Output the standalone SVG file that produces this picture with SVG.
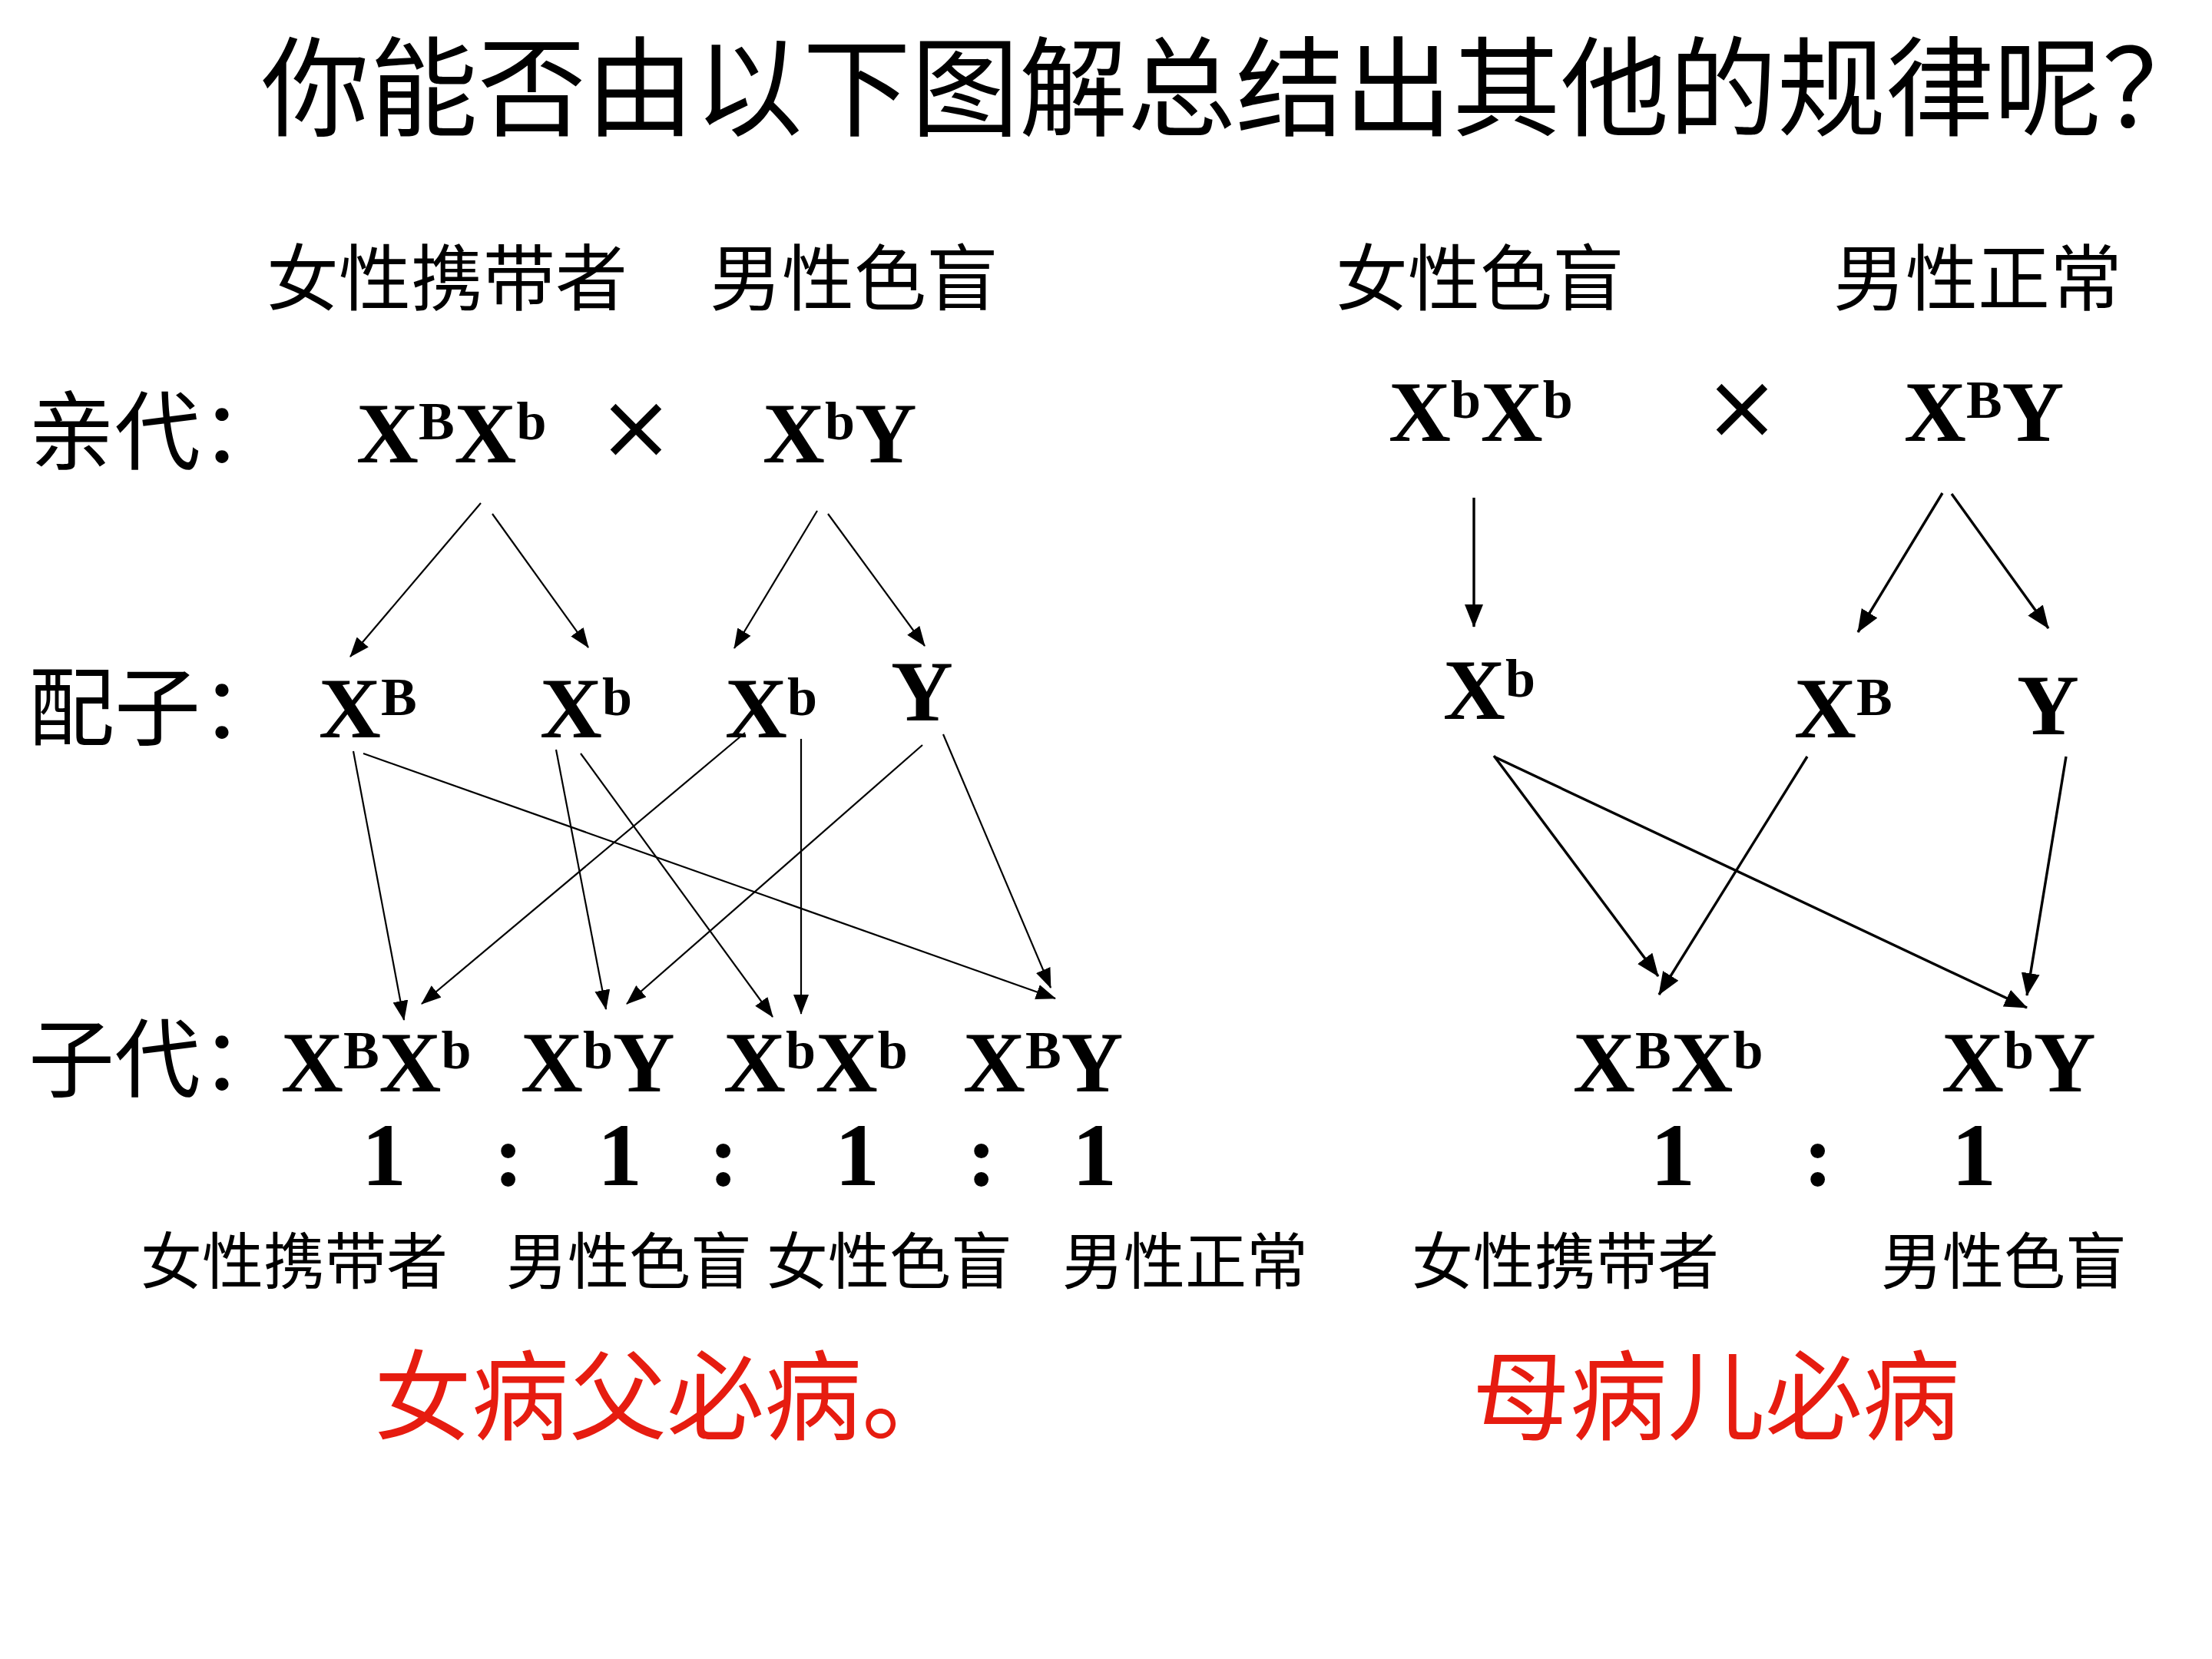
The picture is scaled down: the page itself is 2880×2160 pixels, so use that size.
<svg xmlns="http://www.w3.org/2000/svg" width="2880" height="2160" viewBox="0 0 2880 2160">
<style>
.cjk{font-family:"Noto Sans CJK SC","Noto Sans CJK TC",sans-serif;fill:#000}
.title{font-size:141px}
.lab{font-size:94px}
.row{font-size:112px}
.small{font-size:80px}
.red{font-size:127px;fill:#e61c10}
.gen{font-family:"Liberation Serif","Times New Roman",serif;font-weight:bold;font-size:112px;fill:#000}
.sup{font-size:70px}
.num{font-family:"Liberation Serif","Times New Roman",serif;font-weight:bold;font-size:116px;fill:#000;text-anchor:middle}
.cross{font-family:"DejaVu Sans",sans-serif;font-size:118px;fill:#000;text-anchor:middle}
.thin{stroke:#000;stroke-width:2.2;fill:none;marker-end:url(#ah)}
.thick{stroke:#000;stroke-width:3.4;fill:none;marker-end:url(#ah2)}
</style>
<defs>
<marker id="ah" markerUnits="userSpaceOnUse" viewBox="0 0 26 20" markerWidth="26" markerHeight="20" refX="25" refY="10" orient="auto"><path d="M0,0 L26,10 L0,20 z" fill="#000"/></marker>
<marker id="ah2" markerUnits="userSpaceOnUse" viewBox="0 0 30 24" markerWidth="30" markerHeight="24" refX="29" refY="12" orient="auto"><path d="M0,0 L30,12 L0,24 z" fill="#000"/></marker>
</defs>
<rect width="2880" height="2160" fill="#fff"/>

<g id="title"><text class="cjk title" x="340" y="166">你能否由以下图解总结出其他的规律呢？</text></g>

<g id="label-left-mother"><text class="cjk lab" x="347" y="397">女性携带者</text></g>
<g id="label-left-father"><text class="cjk lab" x="924" y="397">男性色盲</text></g>
<g id="label-right-mother"><text class="cjk lab" x="1739" y="397">女性色盲</text></g>
<g id="label-right-father"><text class="cjk lab" x="2387" y="397">男性正常</text></g>

<g id="row-parent"><text class="cjk row" x="37" y="603">亲代：</text></g>
<g id="row-gamete"><text class="cjk row" x="37" y="962">配子：</text></g>
<g id="row-offspring"><text class="cjk row" x="37" y="1420">子代：</text></g>

<g id="L-P-mother"><text class="gen" x="464" y="602"><tspan>X</tspan><tspan class="sup" dy="-30">B</tspan><tspan dy="30">X</tspan><tspan class="sup" dy="-30">b</tspan></text></g>
<g id="L-cross"><text class="cross" x="828" y="596">×</text></g>
<g id="L-P-father"><text class="gen" x="993" y="602"><tspan>X</tspan><tspan class="sup" dy="-30">b</tspan><tspan dy="30">Y</tspan></text></g>

<g id="L-G-XB"><text class="gen" x="415" y="960"><tspan>X</tspan><tspan class="sup" dy="-29">B</tspan></text></g>
<g id="L-G-Xb1"><text class="gen" x="703" y="960"><tspan>X</tspan><tspan class="sup" dy="-29">b</tspan></text></g>
<g id="L-G-Xb2"><text class="gen" x="944" y="960"><tspan>X</tspan><tspan class="sup" dy="-29">b</tspan></text></g>
<g id="L-G-Y"><text class="gen" x="1160" y="938">Y</text></g>

<g id="L-O-XBXb"><text class="gen" x="366" y="1421"><tspan>X</tspan><tspan class="sup" dy="-30">B</tspan><tspan dy="30">X</tspan><tspan class="sup" dy="-30">b</tspan></text></g>
<g id="L-O-XbY"><text class="gen" x="678" y="1421"><tspan>X</tspan><tspan class="sup" dy="-30">b</tspan><tspan dy="30">Y</tspan></text></g>
<g id="L-O-XbXb"><text class="gen" x="942" y="1421"><tspan>X</tspan><tspan class="sup" dy="-30">b</tspan><tspan dy="30">X</tspan><tspan class="sup" dy="-30">b</tspan></text></g>
<g id="L-O-XBY"><text class="gen" x="1254" y="1421"><tspan>X</tspan><tspan class="sup" dy="-30">B</tspan><tspan dy="30">Y</tspan></text></g>

<g id="L-ratio">
<text class="num" x="500" y="1543">1</text>
<text class="num" x="662" y="1543">:</text>
<text class="num" x="807" y="1543">1</text>
<text class="num" x="942" y="1543">:</text>
<text class="num" x="1116" y="1543">1</text>
<text class="num" x="1278" y="1543">:</text>
<text class="num" x="1425" y="1543">1</text>
</g>

<g id="L-pheno-1"><text class="cjk small" x="183" y="1671">女性携带者</text></g>
<g id="L-pheno-2"><text class="cjk small" x="659" y="1671">男性色盲</text></g>
<g id="L-pheno-3"><text class="cjk small" x="998" y="1671">女性色盲</text></g>
<g id="L-pheno-4"><text class="cjk small" x="1383" y="1671">男性正常</text></g>

<g id="L-rule"><text class="cjk red" x="487" y="1865">女病父必病。</text></g>

<g id="R-P-mother"><text class="gen" x="1808" y="574"><tspan>X</tspan><tspan class="sup" dy="-30">b</tspan><tspan dy="30">X</tspan><tspan class="sup" dy="-30">b</tspan></text></g>
<g id="R-cross"><text class="cross" x="2268" y="570">×</text></g>
<g id="R-P-father"><text class="gen" x="2479" y="574"><tspan>X</tspan><tspan class="sup" dy="-30">B</tspan><tspan dy="30">Y</tspan></text></g>

<g id="R-G-Xb"><text class="gen" x="1879" y="936"><tspan>X</tspan><tspan class="sup" dy="-29">b</tspan></text></g>
<g id="R-G-XB"><text class="gen" x="2336" y="960"><tspan>X</tspan><tspan class="sup" dy="-29">B</tspan></text></g>
<g id="R-G-Y"><text class="gen" x="2626" y="956">Y</text></g>

<g id="R-O-XBXb"><text class="gen" x="2048" y="1421"><tspan>X</tspan><tspan class="sup" dy="-30">B</tspan><tspan dy="30">X</tspan><tspan class="sup" dy="-30">b</tspan></text></g>
<g id="R-O-XbY"><text class="gen" x="2528" y="1421"><tspan>X</tspan><tspan class="sup" dy="-30">b</tspan><tspan dy="30">Y</tspan></text></g>

<g id="R-ratio">
<text class="num" x="2178" y="1543">1</text>
<text class="num" x="2367" y="1543">:</text>
<text class="num" x="2570" y="1543">1</text>
</g>

<g id="R-pheno-1"><text class="cjk small" x="1838" y="1671">女性携带者</text></g>
<g id="R-pheno-2"><text class="cjk small" x="2449" y="1671">男性色盲</text></g>

<g id="R-rule"><text class="cjk red" x="1917" y="1865">母病儿必病</text></g>

<g id="connectors">
<line class="thin" x1="626" y1="655" x2="456" y2="855"/>
<line class="thin" x1="641" y1="669" x2="766" y2="843"/>
<line class="thin" x1="1064" y1="665" x2="956" y2="844"/>
<line class="thin" x1="1078" y1="669" x2="1204" y2="841"/>
<line class="thin" x1="460" y1="978" x2="526" y2="1328"/>
<line class="thin" x1="473" y1="981" x2="1374" y2="1300"/>
<line class="thin" x1="724" y1="976" x2="789" y2="1314"/>
<line class="thin" x1="756" y1="981" x2="1006" y2="1324"/>
<line class="thin" x1="970" y1="954" x2="549" y2="1307"/>
<line class="thin" x1="1043" y1="962" x2="1043" y2="1320"/>
<line class="thin" x1="1201" y1="970" x2="816" y2="1307"/>
<line class="thin" x1="1228" y1="956" x2="1368" y2="1286"/>
<line class="thick" x1="1919" y1="648" x2="1919" y2="816"/>
<line class="thick" x1="2529" y1="642" x2="2419" y2="823"/>
<line class="thick" x1="2541" y1="643" x2="2667" y2="818"/>
<line class="thick" x1="1945" y1="984" x2="2159" y2="1271"/>
<line class="thick" x1="1947" y1="986" x2="2639" y2="1312"/>
<line class="thick" x1="2353" y1="985" x2="2160" y2="1295"/>
<line class="thick" x1="2690" y1="985" x2="2639" y2="1296"/>
</g>
</svg>
